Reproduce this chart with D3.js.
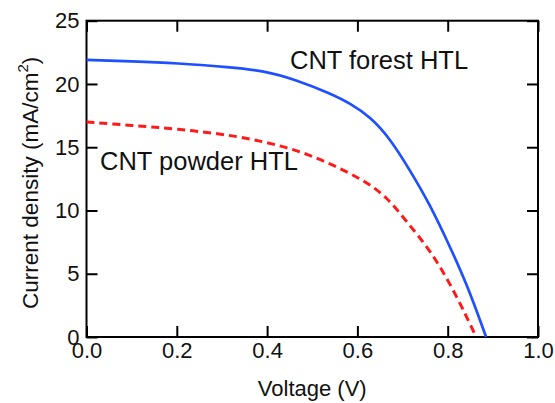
<!DOCTYPE html>
<html>
<head>
<meta charset="utf-8">
<script src="https://cdn.jsdelivr.net/npm/d3@7"></script>
<style>
  body { margin: 0; background: #fff; }
  svg { display: block; font-family: "Liberation Sans", Arial, sans-serif; }
</style>
</head>
<body>
<svg id="chart" width="555" height="403"></svg>
<script>
// J-V curves
var forestV = [0, 0.1, 0.2, 0.318, 0.392, 0.466, 0.539, 0.584, 0.628, 0.672, 0.716, 0.76, 0.798, 0.842, 0.885]
var forestJ = [21.9, 21.8, 21.65, 21.31, 21.05, 20.31, 19.26, 18.47, 17.41, 15.7, 13.2, 10.5, 7.67, 4.24, 0]
var powderV = [0, 0.1, 0.2, 0.318, 0.392, 0.466, 0.539, 0.613, 0.665, 0.709, 0.761, 0.805, 0.842, 0.863]
var powderJ = [17.0, 16.72, 16.45, 15.97, 15.44, 14.78, 13.73, 12.41, 11.1, 9.11, 6.88, 4.24, 1.6, 0]
var xTicks = [0, 0.2, 0.4, 0.6, 0.8, 1.0]
var yTicks = [0, 5, 10, 15, 20, 25]

// plot box (window.top is reserved, so use other names)
var plotL = 86.5, plotR = 538, plotT = 20.7, plotB = 337

var svg = d3.select('#chart')
var x = d3.scaleLinear().domain([0, 1]).range([plotL, plotR])
var y = d3.scaleLinear().domain([0, 25]).range([plotB, plotT])

function styleAxis (g) {
  g.select('.domain').remove()
  g.selectAll('.tick line').attr('stroke', '#000').attr('stroke-width', 2)
  g.selectAll('.tick text').attr('fill', '#111').style('font-size', '22px')
}

svg.append('g').attr('transform', 'translate(0,' + plotB + ')')
  .call(d3.axisBottom(x).tickValues(xTicks).tickFormat(d3.format('.1f')).tickSizeInner(-11).tickSizeOuter(0).tickPadding(5))
  .call(styleAxis)
svg.append('g').attr('transform', 'translate(0,' + plotT + ')')
  .call(d3.axisTop(x).tickValues(xTicks).tickFormat('').tickSizeInner(-11).tickSizeOuter(0))
  .call(styleAxis)
svg.append('g').attr('transform', 'translate(' + plotL + ',0)')
  .call(d3.axisLeft(y).tickValues(yTicks).tickFormat(d3.format('d')).tickSizeInner(-11).tickSizeOuter(0).tickPadding(7))
  .call(styleAxis)
svg.append('g').attr('transform', 'translate(' + plotR + ',0)')
  .call(d3.axisRight(y).tickValues(yTicks).tickFormat('').tickSizeInner(-11).tickSizeOuter(0))
  .call(styleAxis)

svg.append('rect')
  .attr('x', plotL).attr('y', plotT)
  .attr('width', plotR - plotL).attr('height', plotB - plotT)
  .attr('fill', 'none').attr('stroke', '#000').attr('stroke-width', 2)

// basis spline smooths out the reading noise
var line = d3.line()
  .x(d => x(d[0]))
  .y(d => y(d[1]))
  .curve(d3.curveBasis)

svg.append('path')
  .datum(powderV.map((v, i) => [v, powderJ[i]]))
  .attr('d', line)
  .attr('fill', 'none')
  .attr('stroke', '#ff1a1a')
  .attr('stroke-width', 3)
  .attr('stroke-dasharray', '8,5')

svg.append('path')
  .datum(forestV.map((v, i) => [v, forestJ[i]]))
  .attr('d', line)
  .attr('fill', 'none')
  .attr('stroke', '#1e50ff')
  .attr('stroke-width', 2.7)

svg.append('text').attr('x', 290).attr('y', 69).style('font-size', '25.5px').attr('fill', '#111').text('CNT forest HTL')
svg.append('text').attr('x', 100).attr('y', 170).style('font-size', '25.5px').attr('fill', '#111').text('CNT powder HTL')

svg.append('text')
  .attr('x', (plotL + plotR) / 2).attr('y', 396)
  .attr('text-anchor', 'middle').style('font-size', '22px').attr('fill', '#111')
  .text('Voltage (V)')

var yt = svg.append('text')
  .attr('transform', 'translate(38,' + ((plotT + plotB) / 2 + 4) + ') rotate(-90)')
  .attr('text-anchor', 'middle').style('font-size', '22.5px').attr('fill', '#111')
yt.append('tspan').text('Current density (mA/cm')
yt.append('tspan').attr('dy', -10).style('font-size', '15px').text('2')
yt.append('tspan').attr('dy', 10).text(')')
</script>
</body>
</html>
